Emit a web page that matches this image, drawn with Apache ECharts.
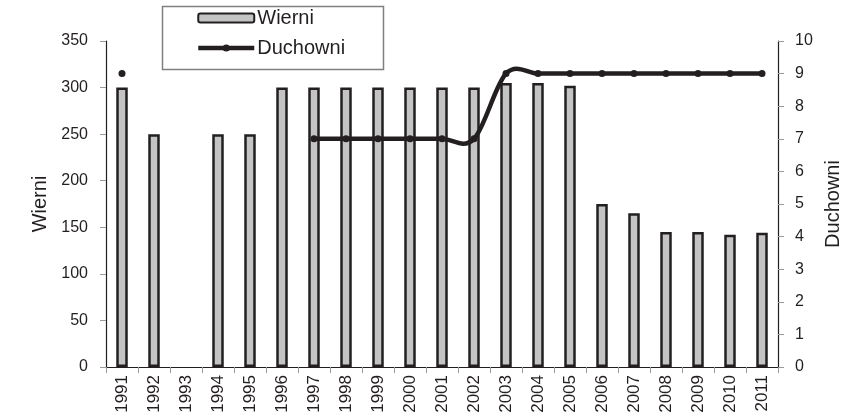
<!DOCTYPE html>
<html>
<head>
<meta charset="utf-8">
<script src="https://cdn.jsdelivr.net/npm/echarts@6/dist/echarts.min.js"></script>
<style>html,body{margin:0;padding:0;background:#fff;}#c{width:844px;height:420px;}</style>
</head>
<body>
<div id="c"></div>
<script>
var years = ['1991','1992','1993','1994','1995','1996','1997','1998','1999','2000','2001','2002','2003','2004','2005','2006','2007','2008','2009','2010','2011'];
var wierni = [300, 250, null, 250, 250, 300, 300, 300, 300, 300, 300, 300, 305, 305, 302, 175, 165, 145, 145, 142, 144];
var duchowni = [9, null, null, null, null, null, 7, 7, 7, 7, 7, 7, 9, 9, 9, 9, 9, 9, 9, 9, 9];
var leftTicks = [0, 350, 50];
var rightTicks = [0, 10, 1];

var ink = '#231f20';
var font = 'Liberation Sans, Arial, sans-serif';

function has(i) { return i >= 0 && i < duchowni.length && duchowni[i] != null; }

function renderSpline(params, api) {
  var i = params.dataIndex;
  if (!has(i) || !has(i + 1)) return null;
  var p1 = api.coord([i, duchowni[i]]);
  var p2 = api.coord([i + 1, duchowni[i + 1]]);
  var p0 = has(i - 1) ? api.coord([i - 1, duchowni[i - 1]]) : p1;
  var p3 = has(i + 2) ? api.coord([i + 2, duchowni[i + 2]]) : p2;
  return {
    type: 'bezierCurve',
    shape: {
      x1: p1[0], y1: p1[1], x2: p2[0], y2: p2[1],
      cpx1: p1[0] + (p2[0] - p0[0]) / 6, cpy1: p1[1] + (p2[1] - p0[1]) / 6,
      cpx2: p2[0] - (p3[0] - p1[0]) / 6, cpy2: p2[1] - (p3[1] - p1[1]) / 6
    },
    style: {stroke: ink, lineWidth: 4.5, fill: null, lineCap: 'round'}
  };
}

var chart = echarts.init(document.getElementById('c'));
chart.setOption({
  animation: false,
  backgroundColor: '#fff',
  textStyle: {fontFamily: font, color: ink},
  grid: {left: 106, right: 66, top: 41, bottom: 53, containLabel: false, outerBoundsMode: 'none'},
  graphic: [{
    type: 'rect', shape: {x: 162.5, y: 6.5, width: 221, height: 63},
    style: {fill: 'none', stroke: '#808080', lineWidth: 1.5}, z: 10
  }],
  legend: {
    orient: 'vertical', left: 196, top: 8, padding: 0, itemGap: 10,
    itemWidth: 56, itemHeight: 9,
    textStyle: {fontSize: 20, color: ink, lineHeight: 20, padding: [0, 0, 0, -2]},
    data: [{name: 'Wierni'}, {name: 'Duchowni', lineStyle: {opacity: 1, width: 4.5, color: ink}}]
  },
  xAxis: {
    type: 'category', data: years, boundaryGap: true,
    axisLine: {lineStyle: {color: ink, width: 1.2}},
    axisTick: {show: true, interval: 0, length: 6, lineStyle: {color: '#999'}},
    axisLabel: {rotate: 90, interval: 0, fontSize: 17, color: ink, margin: 8}
  },
  yAxis: [{
    type: 'value', min: leftTicks[0], max: leftTicks[1], interval: leftTicks[2],
    name: 'Wierni', nameLocation: 'middle', nameRotate: 90, nameGap: 56,
    nameTextStyle: {fontSize: 20, color: ink},
    axisLine: {show: true, lineStyle: {color: ink, width: 1.2}},
    axisTick: {show: true, length: 6, lineStyle: {color: '#999'}},
    axisLabel: {fontSize: 16, color: ink, margin: 18},
    splitLine: {show: false}
  }, {
    type: 'value', min: rightTicks[0], max: rightTicks[1], interval: rightTicks[2], position: 'right',
    name: 'Duchowni', nameLocation: 'middle', nameRotate: 90, nameGap: 44,
    nameTextStyle: {fontSize: 20, color: ink},
    axisLine: {show: true, lineStyle: {color: ink, width: 1.2}},
    axisTick: {show: true, length: 6, lineStyle: {color: '#999'}},
    axisLabel: {fontSize: 16, color: ink, margin: 17},
    splitLine: {show: false}
  }],
  series: [{
    name: 'Wierni', type: 'bar', yAxisIndex: 0, data: wierni, barWidth: 11.5,
    itemStyle: {color: '#c3c4c4', borderColor: ink, borderWidth: 2.5}
  }, {
    name: 'Duchowni', type: 'line', yAxisIndex: 1, data: duchowni,
    connectNulls: false, showSymbol: true, showAllSymbol: true,
    symbol: 'circle', symbolSize: 7,
    lineStyle: {color: ink, width: 4.5, opacity: 0},
    itemStyle: {color: ink},
    z: 6
  }, {
    name: 'DuchowniCurve', type: 'custom', yAxisIndex: 1,
    data: duchowni.map(function (v, i) { return [i, v == null ? 0 : v]; }),
    renderItem: renderSpline,
    silent: true, z: 5
  }]
});
</script>
</body>
</html>
